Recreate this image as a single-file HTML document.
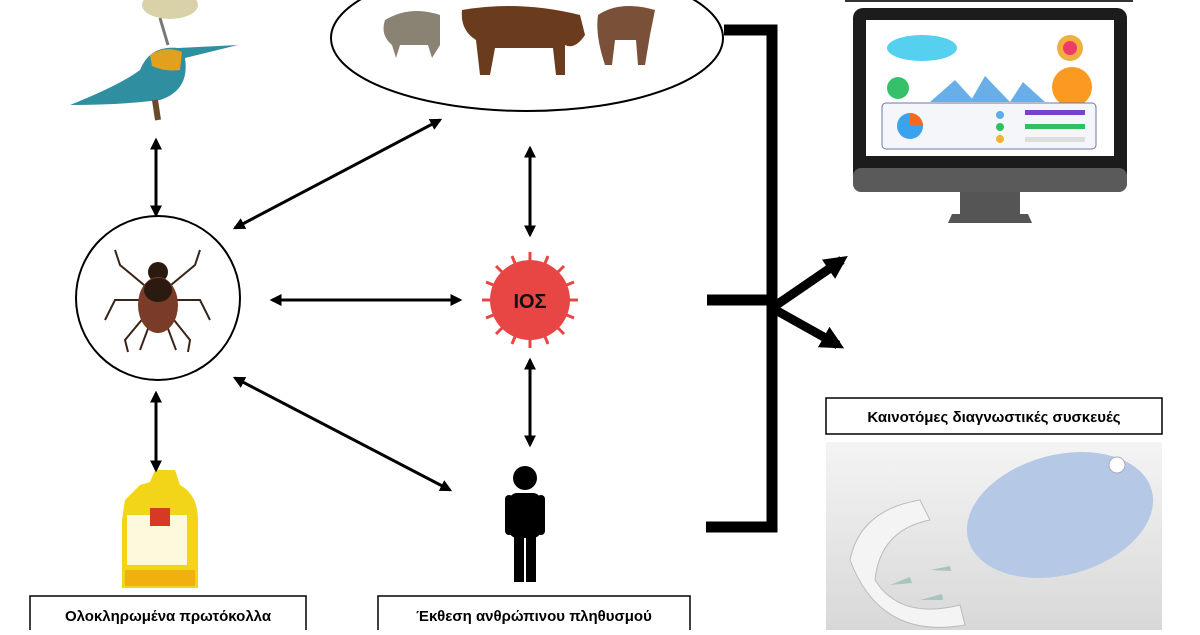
<!DOCTYPE html>
<html><head><meta charset="utf-8"><style>
body{margin:0;width:1200px;height:630px;overflow:hidden;background:#fff;font-family:"Liberation Sans",sans-serif}
</style></head><body>
<svg width="1200" height="630" viewBox="0 0 1200 630" xmlns="http://www.w3.org/2000/svg">
<defs>
<marker id="a" viewBox="0 0 10 10" refX="8" refY="5" markerWidth="4" markerHeight="4" orient="auto-start-reverse"><path d="M0,0 L10,5 L0,10 z" fill="#000"/></marker>
<marker id="b" viewBox="0 0 10 10" refX="7" refY="5" markerWidth="2.6" markerHeight="2.6" orient="auto"><path d="M0,0 L10,5 L0,10 z" fill="#000"/></marker>
<linearGradient id="g" x1="0" y1="0" x2="0" y2="1"><stop offset="0" stop-color="#f4f4f4"/><stop offset="1" stop-color="#d8d8d8"/></linearGradient>
</defs>
<!-- birds -->
<ellipse cx="170" cy="5" rx="28" ry="14" fill="#d9d2a8"/>
<path d="M160,18 L168,45" stroke="#777" stroke-width="3"/>
<path d="M70,105 Q120,85 140,70 Q150,45 178,48 L238,45 L185,58 Q190,90 160,100 Q120,105 70,105z" fill="#2f8fa0"/>
<path d="M150,55 Q165,45 182,52 L180,70 Q165,72 152,66z" fill="#e0a020"/>
<path d="M155,100 L158,120" stroke="#6b4a2a" stroke-width="6"/>
<!-- ellipse -->
<ellipse cx="527" cy="38" rx="196" ry="73" fill="#fff" stroke="#000" stroke-width="2"/>
<path d="M385,20 Q410,5 440,15 L440,45 L432,58 L428,45 L400,45 L396,58 L392,45 Q380,35 385,20z" fill="#8a8272"/>
<path d="M462,10 Q520,0 580,15 L585,35 Q575,50 565,45 L565,75 L556,75 L553,48 L495,48 L490,75 L480,75 L476,40 Q460,30 462,10z" fill="#6b3b1d"/>
<path d="M598,15 Q620,0 655,10 L650,35 L645,65 L638,65 L636,40 L615,40 L612,65 L605,65 Q595,35 598,15z" fill="#7a5038"/>
<!-- tick -->
<circle cx="158" cy="298" r="82" fill="#fff" stroke="#000" stroke-width="2"/>
<g stroke="#3a2418" stroke-width="2" fill="none">
<path d="M150,290 L120,265 L115,250"/><path d="M165,290 L195,265 L200,250"/>
<path d="M148,300 L115,300 L105,320"/><path d="M168,300 L200,300 L210,320"/>
<path d="M150,310 L125,340 L128,352"/><path d="M166,310 L190,340 L188,352"/>
<path d="M152,318 L140,350"/><path d="M164,318 L176,350"/>
</g>
<ellipse cx="158" cy="272" rx="10" ry="10" fill="#2a1a10"/>
<ellipse cx="158" cy="305" rx="20" ry="28" fill="#7a3b28"/>
<ellipse cx="158" cy="290" rx="14" ry="12" fill="#2a1a10"/>
<!-- virus -->
<g fill="#e84545">
<circle cx="530" cy="300" r="40"/>
<g stroke="#e84545" stroke-width="3">
<path d="M530,252 L530,348 M482,300 L578,300 M496,266 L564,334 M564,266 L496,334 M512,256 L548,344 M548,256 L512,344 M486,282 L574,318 M486,318 L574,282"/>
</g>
</g>
<text x="530" y="308" text-anchor="middle" font-size="20" font-weight="bold" fill="#111">ΙΟΣ</text>
<!-- person -->
<g fill="#000">
<circle cx="525" cy="478" r="12"/>
<rect x="509" y="493" width="32" height="45" rx="8"/>
<rect x="514" y="530" width="10" height="52"/><rect x="526" y="530" width="10" height="52"/>
<rect x="505" y="495" width="8" height="40" rx="4"/><rect x="537" y="495" width="8" height="40" rx="4"/>
</g>
<!-- bottle -->
<path d="M125,500 L140,485 L150,482 L155,470 L175,470 L180,485 Q198,495 198,520 L198,588 L122,588 L122,520z" fill="#f2d418"/>
<rect x="127" y="515" width="60" height="50" fill="#fff" opacity=".85"/>
<rect x="150" y="508" width="20" height="18" fill="#d63a24"/>
<rect x="125" y="570" width="70" height="16" fill="#f0b010"/>
<!-- arrows -->
<g stroke="#000" stroke-width="3" marker-start="url(#a)" marker-end="url(#a)">
<line x1="156" y1="140" x2="156" y2="215"/>
<line x1="235" y1="228" x2="440" y2="120"/>
<line x1="272" y1="300" x2="460" y2="300"/>
<line x1="530" y1="148" x2="530" y2="235"/>
<line x1="530" y1="360" x2="530" y2="445"/>
<line x1="235" y1="378" x2="450" y2="490"/>
<line x1="156" y1="393" x2="156" y2="470"/>
</g>
<!-- bracket -->
<path d="M724,30 L772,30 L772,527 L706,527" stroke="#000" stroke-width="11" fill="none"/>
<line x1="707" y1="300" x2="772" y2="300" stroke="#000" stroke-width="11"/>
<line x1="772" y1="308" x2="842" y2="260" stroke="#000" stroke-width="9" marker-end="url(#b)"/>
<line x1="772" y1="308" x2="838" y2="345" stroke="#000" stroke-width="9" marker-end="url(#b)"/>
<!-- monitor -->
<rect x="845" y="-2" width="288" height="4" fill="#333"/>
<rect x="853" y="8" width="274" height="182" rx="10" fill="#1c1c1c"/>
<rect x="853" y="168" width="274" height="24" rx="8" fill="#5a5a5a"/>
<rect x="866" y="20" width="248" height="136" fill="#fff"/>
<rect x="960" y="192" width="60" height="22" fill="#555"/>
<path d="M952,214 L1028,214 L1032,223 L948,223z" fill="#555"/>
<ellipse cx="922" cy="48" rx="35" ry="13" fill="#55d0ee"/>
<circle cx="1070" cy="48" r="13" fill="#f0b040"/><circle cx="1070" cy="48" r="7" fill="#ee3b6b"/>
<circle cx="1072" cy="87" r="20" fill="#fb9a20"/>
<path d="M930,102 L955,80 L975,102z M970,102 L985,76 L1010,102z M1010,102 L1023,82 L1045,102z" fill="#6aaee8"/>
<circle cx="898" cy="88" r="11" fill="#37c06a"/>
<rect x="882" y="103" width="214" height="46" rx="4" fill="#f4f6fa" stroke="#6a78a8"/>
<circle cx="910" cy="126" r="13" fill="#3aa3f0"/><path d="M910,126 L910,113 A13,13 0 0 1 923,126z" fill="#f56b1d"/>
<rect x="1025" y="110" width="60" height="5" fill="#7a40c8"/><rect x="1025" y="124" width="60" height="5" fill="#30c060"/><rect x="1025" y="137" width="60" height="5" fill="#ddd"/>
<circle cx="1000" cy="115" r="4" fill="#60aaf0"/><circle cx="1000" cy="127" r="4" fill="#30c060"/><circle cx="1000" cy="139" r="4" fill="#f7b030"/>
<!-- device -->
<rect x="826" y="398" width="336" height="36" fill="#fff" stroke="#000" stroke-width="1.5"/>
<text x="994" y="422" text-anchor="middle" font-size="15" font-weight="bold">Καινοτόμες διαγνωστικές συσκευές</text>
<rect x="826" y="442" width="336" height="188" fill="url(#g)"/>
<ellipse cx="1060" cy="515" rx="95" ry="60" fill="#b5c8e6" transform="rotate(-15 1060 515)"/>
<circle cx="1117" cy="465" r="8" fill="#fff" stroke="#aab" />
<path d="M850,560 Q860,510 920,500 L930,520 Q880,530 875,580 Q900,620 960,605 L965,625 Q880,640 850,560z" fill="#f4f4f4" stroke="#bbb"/>
<g fill="#a8c4c0"><path d="M890,585 l20,-8 l2,6z"/><path d="M920,600 l22,-6 l1,6z"/><path d="M930,570 l20,-4 l1,5z"/></g>
<!-- bottom labels -->
<rect x="30" y="596" width="276" height="40" fill="#fff" stroke="#000" stroke-width="1.5"/>
<text x="168" y="621" text-anchor="middle" font-size="15" font-weight="bold">Ολοκληρωμένα πρωτόκολλα</text>
<rect x="378" y="596" width="312" height="40" fill="#fff" stroke="#000" stroke-width="1.5"/>
<text x="534" y="621" text-anchor="middle" font-size="15" font-weight="bold">Έκθεση ανθρώπινου πληθυσμού</text>
</svg>
</body></html>
